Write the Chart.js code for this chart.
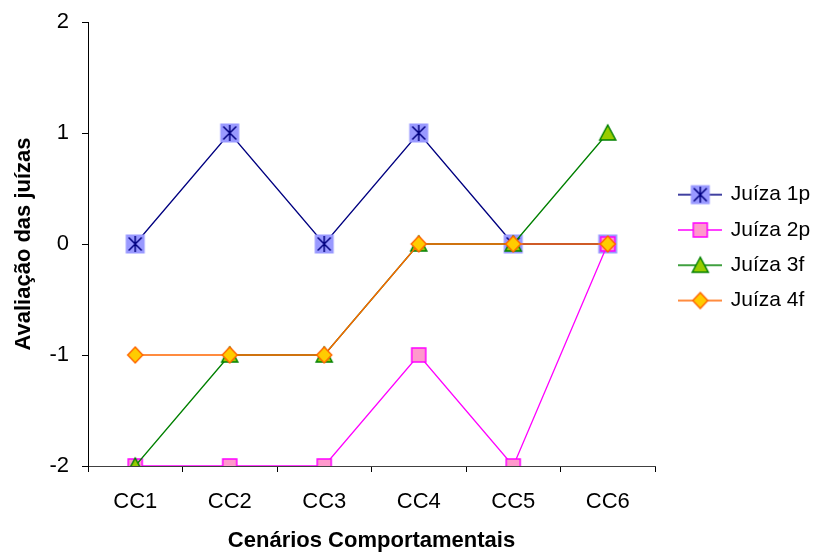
<!DOCTYPE html>
<html>
<head>
<meta charset="utf-8">
<script src="https://cdn.jsdelivr.net/npm/chart.js@4.4.0/dist/chart.umd.min.js"></script>
<style>
  body { margin: 0; background: #fff; }
</style>
</head>
<body>
<canvas id="chart" width="813" height="554"></canvas>
<script>
// data
const categories = ['CC1', 'CC2', 'CC3', 'CC4', 'CC5', 'CC6'];
const juiza1p = [0, 1, 0, 1, 0, 0];
const juiza2p = [-2, -2, -2, -1, -2, 0];
const juiza3f = [-2, -1, -1, 0, 0, 1];
const juiza4f = [-1, -1, -1, 0, 0, 0];
const seriesNames = ['Juíza 1p', 'Juíza 2p', 'Juíza 3f', 'Juíza 4f'];
const yMin = -2, yMax = 2, yStep = 1;

const FONT = "'Liberation Sans', Arial, sans-serif";

// marker look per series
const styles = [
    { kind: 'star', line: '#000080' },
    { kind: 'square', line: '#ff00ff' },
    { kind: 'triangle', line: '#008000' },
    { kind: 'diamond', line: '#ff6600' }
];

function drawMarker(ctx, kind, cx, cy) {
    ctx.lineWidth = 1.5;
    ctx.lineJoin = 'miter';
    if (kind === 'star') {
        ctx.fillStyle = '#9999ff';
        ctx.fillRect(cx - 9.5, cy - 9.5, 19, 19);
        ctx.strokeStyle = '#000080';
        ctx.beginPath();
        ctx.moveTo(cx, cy - 8); ctx.lineTo(cx, cy + 8);
        ctx.moveTo(cx - 6.5, cy - 6.5); ctx.lineTo(cx + 6.5, cy + 6.5);
        ctx.moveTo(cx + 6.5, cy - 6.5); ctx.lineTo(cx - 6.5, cy + 6.5);
        ctx.stroke();
    } else if (kind === 'square') {
        ctx.fillStyle = '#ff99cc';
        ctx.strokeStyle = '#ff00ff';
        ctx.fillRect(cx - 7, cy - 7, 14, 14);
        ctx.strokeRect(cx - 7, cy - 7, 14, 14);
    } else if (kind === 'triangle') {
        ctx.fillStyle = '#99cc00';
        ctx.strokeStyle = '#008000';
        ctx.beginPath();
        ctx.moveTo(cx, cy - 8);
        ctx.lineTo(cx + 8, cy + 7);
        ctx.lineTo(cx - 8, cy + 7);
        ctx.closePath();
        ctx.fill(); ctx.stroke();
    } else {
        ctx.fillStyle = '#ffcc00';
        ctx.strokeStyle = '#ff6600';
        ctx.beginPath();
        ctx.moveTo(cx, cy - 8);
        ctx.lineTo(cx + 7.5, cy);
        ctx.lineTo(cx, cy + 8);
        ctx.lineTo(cx - 7.5, cy);
        ctx.closePath();
        ctx.fill(); ctx.stroke();
    }
}

function pointImage(s) {
    const c = document.createElement('canvas');
    c.width = 22; c.height = 22;
    drawMarker(c.getContext('2d'), s.kind, 11, 11);
    return c;
}

function legendImage(s) {
    const c = document.createElement('canvas');
    c.width = 44; c.height = 22;
    const ctx = c.getContext('2d');
    ctx.strokeStyle = s.line;
    ctx.lineWidth = 1.3;
    ctx.beginPath();
    ctx.moveTo(0, 11); ctx.lineTo(44, 11);
    ctx.stroke();
    drawMarker(ctx, s.kind, 22, 11);
    return c;
}

const pointIcons = styles.map(pointImage);
const legendIcons = styles.map(legendImage);

const seriesData = [juiza1p, juiza2p, juiza3f, juiza4f];

const chart = new Chart(document.getElementById('chart').getContext('2d'), {
    type: 'line',
    data: {
        labels: categories,
        datasets: seriesData.map((d, i) => ({
            label: seriesNames[i],
            data: d,
            borderColor: styles[i].line,
            borderWidth: 1.3,
            tension: 0,
            pointStyle: pointIcons[i],
            pointRadius: 9,
            order: 4 - i   // last series drawn on top
        }))
    },
    options: {
        responsive: false,
        animation: false,
        layout: { padding: { top: 22, left: 0, right: 0, bottom: 0 } },
        plugins: {
            tooltip: { enabled: false },
            legend: {
                position: 'right',
                fullSize: false,
                maxWidth: 147,
                // empty title only pushes the items a few px down
                title: { display: true, text: '', font: { size: 1 }, padding: { top: 3, bottom: 3 } },
                labels: {
                    usePointStyle: true,
                    pointStyleWidth: 40,
                    padding: 14.3,
                    color: '#000',
                    font: { family: FONT, size: 21 },
                    generateLabels: chart => chart.data.datasets.map((ds, i) => ({
                        text: ds.label,
                        pointStyle: legendIcons[i],
                        datasetIndex: i,
                        hidden: false,
                        lineWidth: 0,
                        fontColor: '#000'
                    }))
                }
            }
        },
        scales: {
            x: {
                offset: true,
                grid: { offset: true, drawOnChartArea: false, drawTicks: true, tickLength: 6, color: '#000' },
                border: { color: '#404040', width: 1 },
                ticks: { color: '#000', padding: 17, font: { family: FONT, size: 22 } },
                title: {
                    display: true,
                    text: 'Cenários Comportamentais',
                    color: '#000',
                    font: { family: FONT, size: 22, weight: 'bold' },
                    padding: { top: 4, bottom: 0 }
                },
                afterFit: s => { s.height = 88; }
            },
            y: {
                min: yMin,
                max: yMax,
                grid: { drawOnChartArea: false, drawTicks: true, tickLength: 6, color: '#000' },
                border: { color: '#000', width: 1 },
                ticks: { stepSize: yStep, color: '#000', padding: 13, font: { family: FONT, size: 22 } },
                title: {
                    display: true,
                    text: 'Avaliação das juízas',
                    color: '#000',
                    font: { family: FONT, size: 22, weight: 'bold' },
                    padding: { top: 11, bottom: 4 }
                },
                afterFit: s => {
                    s.width = 88;
                    s.paddingTop = 0;
                    s.paddingBottom = 0;
                }
            },
            // empty gap between plot and legend
            gap: {
                type: 'linear',
                position: 'right',
                display: true,
                grid: { display: false },
                border: { display: false },
                ticks: { display: false },
                afterFit: s => { s.width = 11; }
            }
        }
    }
});
</script>
</body>
</html>
